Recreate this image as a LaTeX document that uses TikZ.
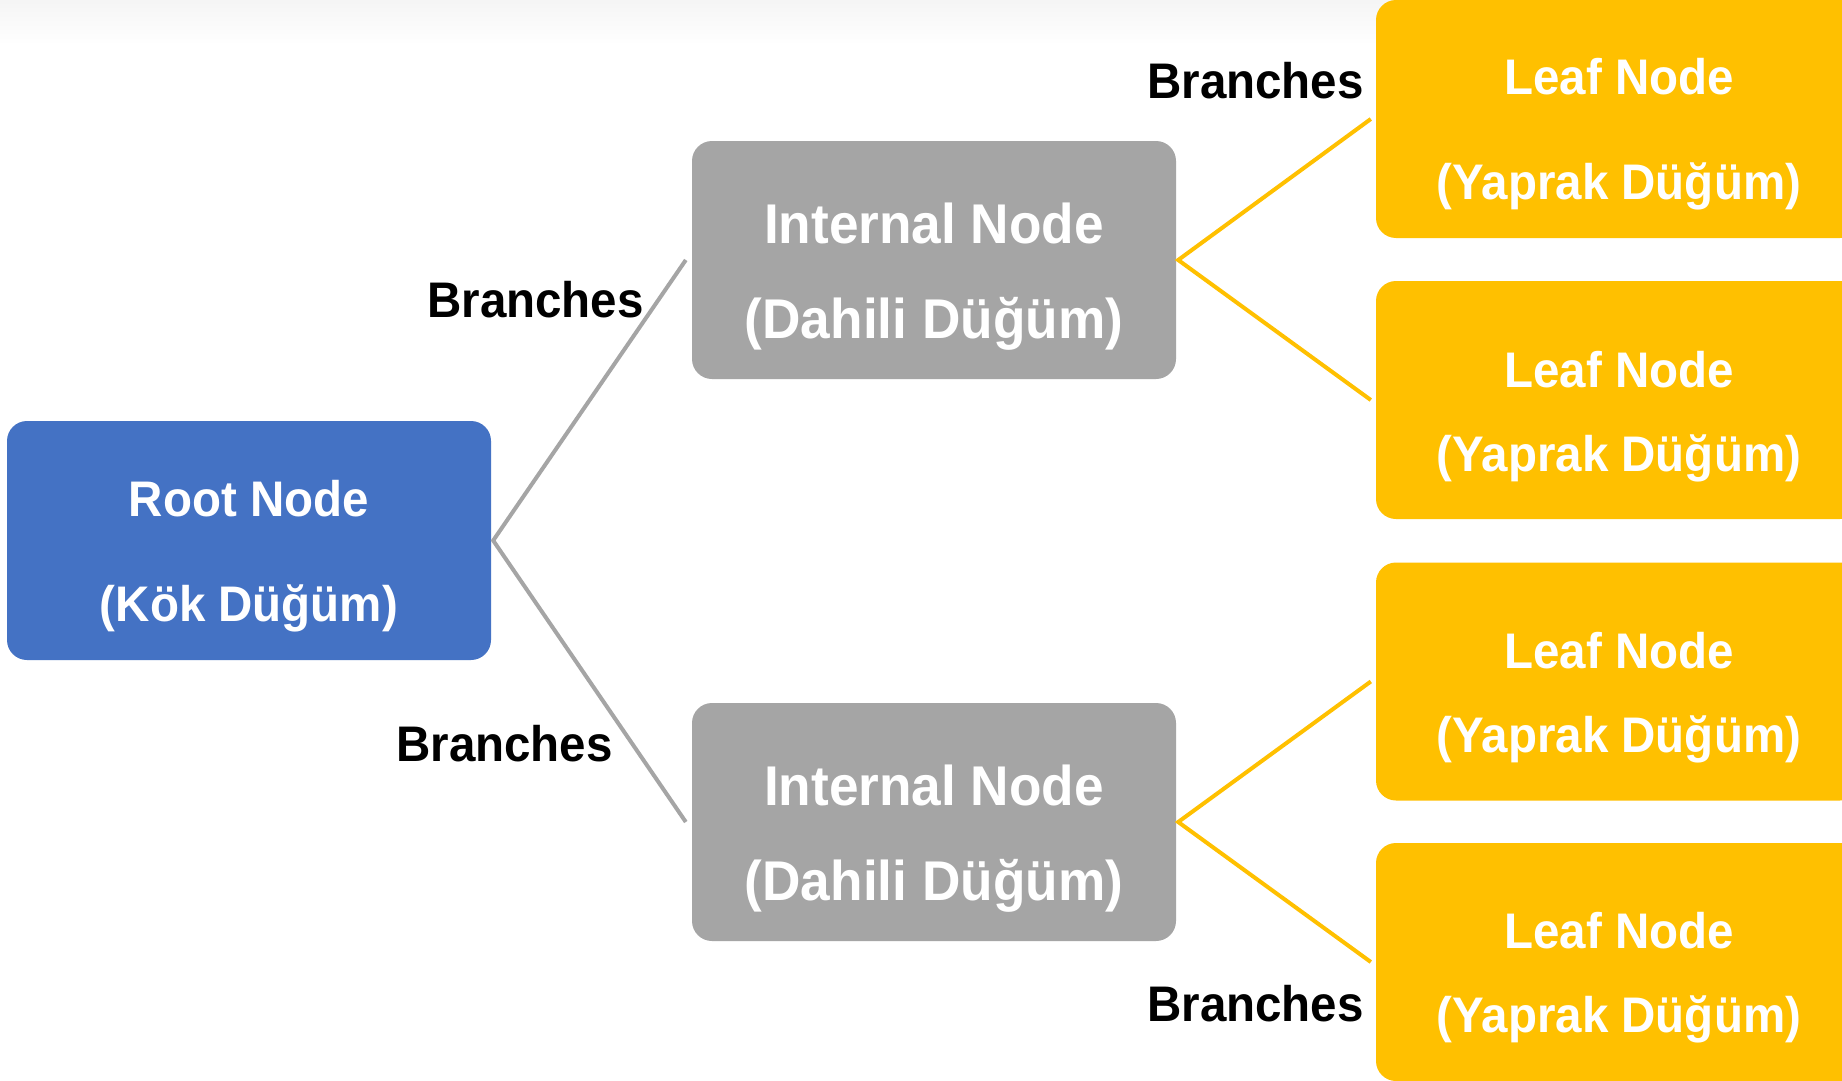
\documentclass[tikz,border=0pt]{standalone}
\usepackage{fontspec}
\setmainfont{Liberation Sans}[FakeStretch=0.95]
\definecolor{rootblue}{HTML}{4472C4}
\definecolor{midgray}{HTML}{A5A5A5}
\definecolor{leafgold}{HTML}{FFC000}
\begin{document}
\begin{tikzpicture}[x=1pt,y=-1pt,
  box/.style={rectangle, rounded corners=20pt, draw=none, inner sep=0pt,
    minimum width=484pt, minimum height=238pt},
  rootbox/.style={box, fill=rootblue, minimum height=239pt},
  intbox/.style={box, fill=midgray},
  leafbox/.style={box, fill=leafgold},
  wtxt/.style={text=white, inner sep=0pt, anchor=base,
    font=\fontsize{50}{60}\selectfont\bfseries},
  wtxtbig/.style={wtxt, font=\fontsize{56}{66}\selectfont\bfseries},
  btxt/.style={text=black, inner sep=0pt, anchor=base east,
    font=\fontsize{50}{60}\selectfont\bfseries},
  grayline/.style={draw=midgray, line width=4pt, line join=miter},
  goldline/.style={draw=leafgold, line width=4pt, line join=miter}]
\clip (0,0) rectangle (1842,1081);
\fill[white] (0,0) rectangle (1842,1081);
\fill[top color=black!4, bottom color=white] (0,0) rectangle (1842,45);

% boxes
\node[rootbox] (root) at (249,540.5) {};
\node[intbox] (i1) at (934,260) {};
\node[intbox] (i2) at (934,822) {};
\node[leafbox] (l1) at (1618,119) {};
\node[leafbox] (l2) at (1618,400) {};
\node[leafbox] (l3) at (1618,681.5) {};
\node[leafbox] (l4) at (1618,962) {};

% texts
\node[wtxt] (root-a) at (249,516) {Root Node};
\node[wtxt] (root-b) at (249,621) {(Kök Düğüm)};
\node[wtxtbig] (i1-a) at (934,243) {Internal Node};
\node[wtxtbig] (i1-b) at (934,338) {(Dahili Düğüm)};
\node[wtxtbig] (i2-a) at (934,805) {Internal Node};
\node[wtxtbig] (i2-b) at (934,900) {(Dahili Düğüm)};
\node[wtxt] (l1-a) at (1619,94) {Leaf Node};
\node[wtxt] (l1-b) at (1619,199) {(Yaprak Düğüm)};
\node[wtxt] (l2-a) at (1619,387) {Leaf Node};
\node[wtxt] (l2-b) at (1619,471) {(Yaprak Düğüm)};
\node[wtxt] (l3-a) at (1619,668) {Leaf Node};
\node[wtxt] (l3-b) at (1619,752) {(Yaprak Düğüm)};
\node[wtxt] (l4-a) at (1619,948) {Leaf Node};
\node[wtxt] (l4-b) at (1619,1032) {(Yaprak Düğüm)};

% branch labels
\node[btxt] (br1) at (644,317) {Branches};
\node[btxt] (br2) at (613,761) {Branches};
\node[btxt] (br3) at (1364,98) {Branches};
\node[btxt] (br4) at (1364,1021) {Branches};

% connectors
\draw[grayline] ([xshift=-6pt]i1.west) -- ([xshift=2pt]root.east) -- ([xshift=-6pt]i2.west);
\draw[goldline] ([xshift=-5pt]l1.west) -- ([xshift=2pt]i1.east) -- ([xshift=-5pt]l2.west);
\draw[goldline] ([xshift=-5pt]l3.west) -- ([xshift=2pt]i2.east) -- ([xshift=-5pt]l4.west);
\end{tikzpicture}
\end{document}
